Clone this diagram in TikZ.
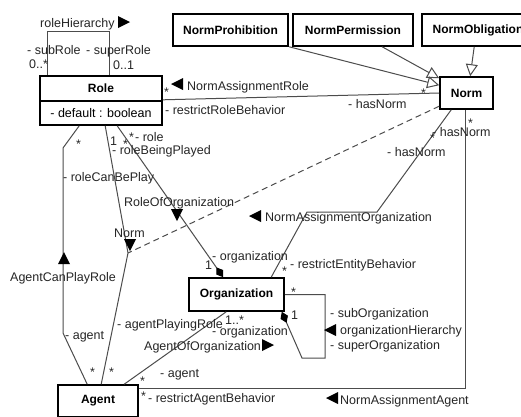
\documentclass[tikz,border=0pt]{standalone}
\usepackage{fontspec}
\setmainfont{Liberation Sans}
\usetikzlibrary{arrows.meta}
\begin{document}
\begin{tikzpicture}[x=1pt,y=-1pt,
  cls/.style={draw=black, line width=1.6pt, fill=white, inner sep=0pt, font=\fontsize{12}{14}\selectfont\bfseries},
  attr/.style={draw=black, line width=1.6pt, fill=white, inner sep=0pt, font=\fontsize{12.5}{14}\selectfont},
  lbl/.style={anchor=west, inner sep=0pt, text height=9pt, text depth=2.5pt, font=\fontsize{12.5}{14}\selectfont, text=black!85},
  conn/.style={draw=black!70, line width=1pt},
  gen/.style={conn, -{Triangle[open, length=12pt, width=12pt, line width=1pt]}},
  comp/.style={conn, -{Diamond[length=12pt, width=8pt, color=black]}},
  rtri/.pic={\fill[black] (-6,-6) -- (6,0) -- (-6,6) -- cycle;},
  ltri/.pic={\fill[black] (6,-6) -- (-6,0) -- (6,6) -- cycle;},
  utri/.pic={\fill[black] (-6,6) -- (0,-6) -- (6,6) -- cycle;},
  dtri/.pic={\fill[black] (-6,-6) -- (0,6) -- (6,-6) -- cycle;}
]
\useasboundingbox[fill=white] (0,0) rectangle (521,416);

% classes
\node[cls, minimum width=122pt, minimum height=25pt] (role) at (101,88.5) {Role};
\node[attr, minimum width=122pt, minimum height=24pt] (roleb) at (101,113) {- default : boolean};
\node[cls, minimum width=115pt, minimum height=32pt] (nproh) at (230.5,30) {NormProhibition};
\node[cls, minimum width=120pt, minimum height=32pt] (nperm) at (353,30) {NormPermission};
\node[cls, minimum width=112pt, minimum height=32pt] (nobl) at (478,30) {NormObligation};
\node[cls, minimum width=53pt, minimum height=32pt] (norm) at (466.5,93) {Norm};
\node[cls, minimum width=95pt, minimum height=33pt] (org) at (236.5,294.5) {Organization};
\node[cls, minimum width=80pt, minimum height=32pt] (agent) at (98,401) {Agent};

\coordinate (nb) at (128,253);

% connectors
\draw[conn] ([xshift=8pt]role.north west) -- ++(0,-44) -| ([xshift=70pt]role.north west);
\draw[conn] ([yshift=2pt]role.south east) -- (norm.west);
\draw[gen] ([xshift=117pt]nproh.south west) -- ([yshift=-9pt]norm.north west);
\draw[gen] ([xshift=90pt]nperm.south west) -- ([yshift=-2pt]norm.north west);
\draw[gen] ([xshift=53pt]nobl.south west) -- ([xshift=31pt]norm.north west);
\draw[conn, dash pattern=on 6pt off 4pt] ([yshift=-30pt]norm.north west) -- (nb);
\draw[conn] ([xshift=66pt]roleb.south west) -- (nb) -- ([xshift=44pt]agent.north west);
\draw[conn] ([xshift=40pt]roleb.south west) -- (63,148) -- (63,333) -- ([xshift=30pt]agent.north west);
\draw[comp] ([xshift=78pt]roleb.south west) -- ([xshift=35pt]org.north west);
\draw[conn] ([xshift=12pt]norm.south west) -- (377,212) -- (307,212) -- ([xshift=83pt]org.north west);
\draw[conn] ([xshift=26pt]norm.south west) |- ([yshift=13pt]agent.east);
\draw[conn] ([xshift=67pt]agent.north west) -- ([xshift=38pt]org.south west);
\draw[comp] (org.east) -| (325,358) -- (302,358) -- ([xshift=-3pt]org.south east);

% direction triangles
\pic at (124,22) {rtri};
\pic at (177,84) {ltri};
\pic at (177,215) {dtri};
\pic at (130,245) {dtri};
\pic at (64,258) {utri};
\pic at (255,216) {ltri};
\pic at (330,330) {ltri};
\pic at (268,345) {rtri};
\pic at (332,398) {ltri};

% labels
\node[lbl] (l1) at (40,24) {roleHierarchy};
\node[lbl] (l2) at (27,51) {- subRole};
\node[lbl] (l3) at (86,51) {- superRole};
\node[lbl] (l4) at (29,65) {0..*};
\node[lbl] (l5) at (113,66) {0..1};
\node[lbl] (a1) at (164,93) {*};
\node[lbl] (l6) at (187,87) {NormAssignmentRole};
\node[lbl] (l7) at (165,111) {- restrictRoleBehavior};
\node[lbl] (l8) at (348,105) {- hasNorm};
\node[lbl] (a2) at (421,94) {*};
\node[lbl] (a3) at (76,145) {*};
\node[lbl] (l9) at (110,142) {1};
\node[lbl] (a4) at (123,145) {*};
\node[lbl] (a5) at (129,138) {*};
\node[lbl] (l10) at (135,138) {- role};
\node[lbl] (l11) at (112,151) {- roleBeingPlayed};
\node[lbl] (l12) at (63,178) {- roleCanBePlay};
\node[lbl] (l13) at (124,203) {RoleOfOrganization};
\node[lbl] (l14) at (114,234) {Norm};
\node[lbl] (l15) at (10,278) {AgentCanPlayRole};
\node[lbl] (l16) at (265,218) {NormAssignmentOrganization};
\node[lbl] (l17) at (387,153) {- hasNorm};
\node[lbl] (l18) at (432,133) {- hasNorm};
\node[lbl] (a6) at (430,139) {*};
\node[lbl] (a7) at (468,124) {*};
\node[lbl] (l19) at (212,257) {- organization};
\node[lbl] (l20) at (205,266) {1};
\node[lbl] (a8) at (282,272) {*};
\node[lbl] (l21) at (290,265) {- restrictEntityBehavior};
\node[lbl] (a9) at (291,293) {*};
\node[lbl] (l22) at (291,316) {1};
\node[lbl] (l23) at (330,314) {- subOrganization};
\node[lbl] (l24) at (340,331) {organizationHierarchy};
\node[lbl] (l25) at (330,346) {- superOrganization};
\node[lbl] (l26) at (117,325) {- agentPlayingRole};
\node[lbl] (l26b) at (225,321) {1..*};
\node[lbl] (l27) at (65,336) {- agent};
\node[lbl] (l28) at (212,332) {- organization};
\node[lbl] (l29) at (144,347) {AgentOfOrganization};
\node[lbl] (l30) at (160,374) {- agent};
\node[lbl] (a10) at (140,382) {*};
\node[lbl] (a11) at (90,373) {*};
\node[lbl] (a12) at (109,373) {*};
\node[lbl] (a13) at (141,397) {*};
\node[lbl] (l31) at (148,399) {- restrictAgentBehavior};
\node[lbl] (l32) at (340,401) {NormAssignmentAgent};
\end{tikzpicture}
\end{document}
